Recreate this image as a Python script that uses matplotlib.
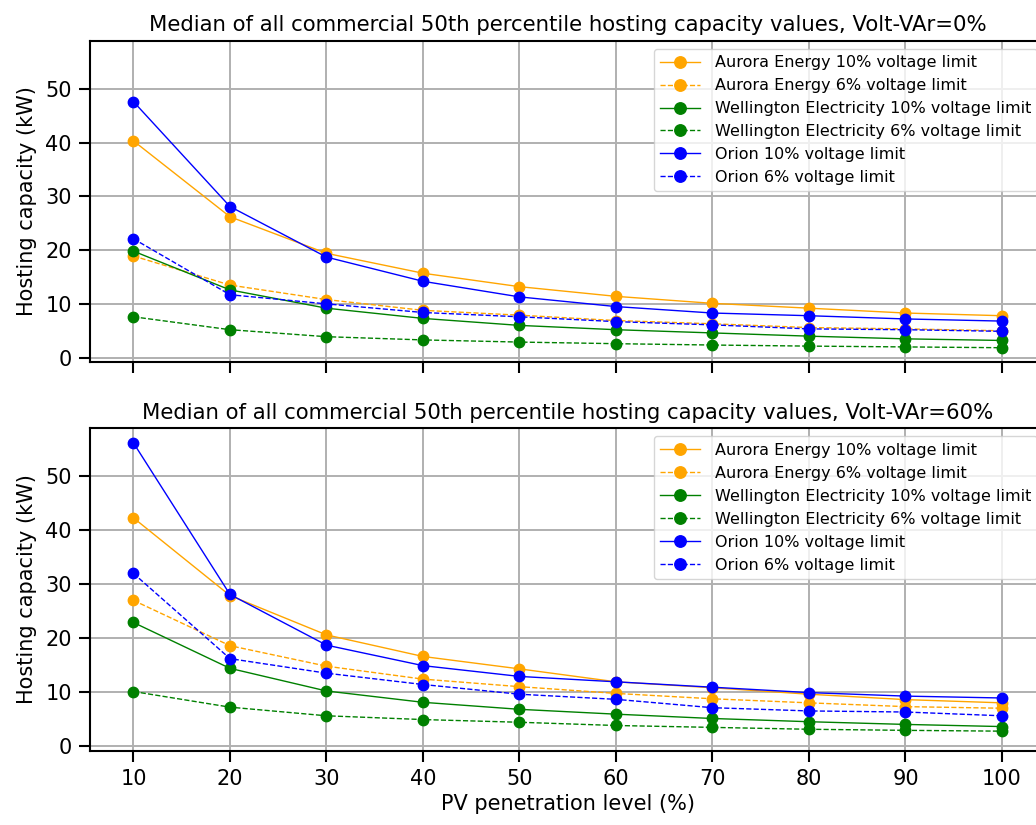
import matplotlib
matplotlib.use("Agg")
import matplotlib.pyplot as plt

# PV penetration levels (%)
pv_levels = [10, 20, 30, 40, 50, 60, 70, 80, 90, 100]

# Volt-VAr = 0%
aurora_10_vv0 = [40.3, 26.2, 19.4, 15.7, 13.2, 11.4, 10.1, 9.2, 8.3, 7.8]
aurora_6_vv0 = [18.9, 13.5, 10.8, 8.8, 7.9, 6.9, 6.3, 5.6, 5.35, 5.0]
wellington_10_vv0 = [19.8, 12.6, 9.2, 7.3, 6.0, 5.2, 4.6, 4.0, 3.5, 3.2]
wellington_6_vv0 = [7.6, 5.2, 3.9, 3.3, 2.9, 2.6, 2.35, 2.15, 2.0, 1.85]
orion_10_vv0 = [47.6, 28.1, 18.7, 14.2, 11.3, 9.5, 8.3, 7.8, 7.2, 6.8]
orion_6_vv0 = [22.1, 11.7, 10.0, 8.4, 7.6, 6.7, 6.1, 5.35, 5.2, 4.9]

# Volt-VAr = 60%
aurora_10_vv60 = [42.3, 27.9, 20.6, 16.6, 14.3, 11.9, 10.8, 9.6, 8.6, 8.0]
aurora_6_vv60 = [27.0, 18.6, 14.8, 12.4, 11.0, 9.75, 8.75, 8.0, 7.3, 7.0]
wellington_10_vv60 = [22.9, 14.4, 10.2, 8.1, 6.8, 5.9, 5.1, 4.5, 4.0, 3.6]
wellington_6_vv60 = [10.1, 7.2, 5.6, 4.9, 4.4, 3.8, 3.45, 3.1, 2.9, 2.75]
orion_10_vv60 = [56.2, 28.1, 18.7, 14.9, 12.9, 11.9, 10.9, 9.9, 9.25, 8.9]
orion_6_vv60 = [32.0, 16.2, 13.5, 11.4, 9.6, 8.65, 7.1, 6.5, 6.3, 5.6]

labels = [
    "Aurora Energy 10% voltage limit",
    "Aurora Energy 6% voltage limit",
    "Wellington Electricity 10% voltage limit",
    "Wellington Electricity 6% voltage limit",
    "Orion 10% voltage limit",
    "Orion 6% voltage limit",
]
colors = ["orange", "orange", "green", "green", "blue", "blue"]
styles = ["-", "--", "-", "--", "-", "--"]

panels = [
    ("Median of all commercial 50th percentile hosting capacity values, Volt-VAr=0%",
     [aurora_10_vv0, aurora_6_vv0, wellington_10_vv0, wellington_6_vv0,
      orion_10_vv0, orion_6_vv0]),
    ("Median of all commercial 50th percentile hosting capacity values, Volt-VAr=60%",
     [aurora_10_vv60, aurora_6_vv60, wellington_10_vv60, wellington_6_vv60,
      orion_10_vv60, orion_6_vv60]),
]

plt.rcParams["axes.linewidth"] = 1.5
plt.rcParams["grid.linewidth"] = 1.4

fig = plt.figure(figsize=(10.36, 8.25), dpi=100)
ax1 = fig.add_axes([0.0869, 0.5608, 0.9222, 0.3898])
ax2 = fig.add_axes([0.0869, 0.0901, 0.9222, 0.3908], sharex=ax1, sharey=ax1)

for ax, (title, series) in zip([ax1, ax2], panels):
    for vals, lab, col, ls in zip(series, labels, colors, styles):
        ax.plot(pv_levels, vals, ls, color=col, marker="o", markersize=7.5,
                linewidth=1, label=lab)
    ax.set_title(title, fontsize=15.3, pad=7)
    ax.set_ylabel("Hosting capacity (kW)", fontsize=15, labelpad=6)
    ax.grid(True)
    ax.tick_params(labelsize=15, width=1.5, length=8, pad=5)
    ax.legend(loc="upper right", fontsize=11.5, markerscale=1.1,
              handlelength=2.5, handletextpad=0.9)

ax1.tick_params(labelbottom=False)
ax2.set_xticks(pv_levels)
ax2.set_xlabel("PV penetration level (%)", fontsize=15)

fig.savefig("out.png", dpi=100)
